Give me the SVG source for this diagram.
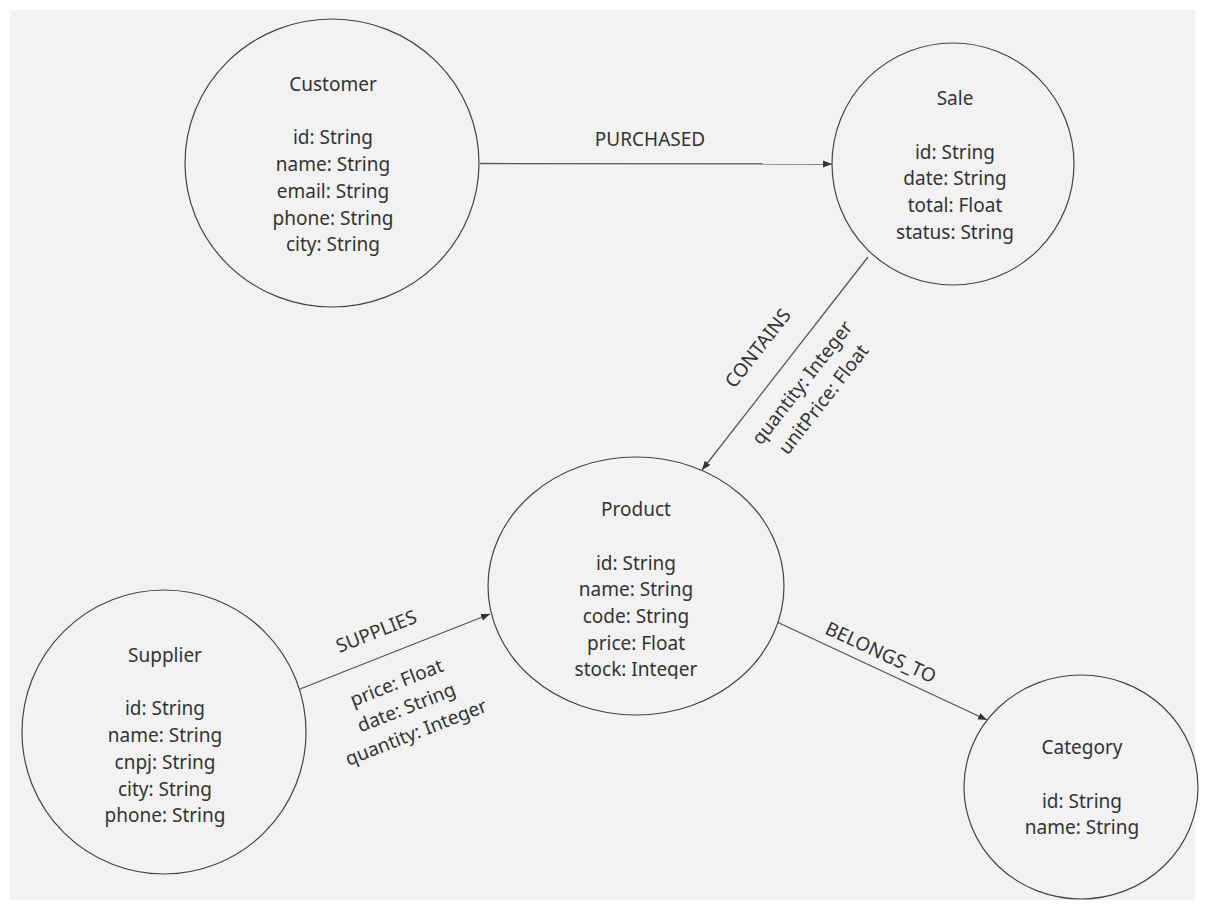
<svg xmlns="http://www.w3.org/2000/svg" width="1205" height="906" viewBox="0 0 1205 906">
<defs>
<style>
.bg{fill:#f2f2f2}
.node{fill:#f2f2f2;stroke:#444;stroke-width:1.2}
.edge{fill:none;stroke:#555;stroke-width:1.3}
text{font-family:"Noto Sans","Open Sans","DejaVu Sans",sans-serif;font-size:19px;fill:#333;text-anchor:middle}
</style>
<marker id="arr" markerUnits="userSpaceOnUse" markerWidth="10" markerHeight="8" refX="9" refY="3.5" orient="auto">
<path d="M0,0 L9,3.5 L0,7 z" fill="#333"/>
</marker>
<clipPath id="pclip"><rect x="480" y="450" width="320" height="229"/></clipPath>
</defs>
<rect width="1205" height="906" fill="#ffffff"/>
<rect class="bg" x="10" y="10" width="1185" height="890"/>

<g id="connectors">
<g id="e-purchased">
<line class="edge" x1="480" y1="163.5" x2="832" y2="164" marker-end="url(#arr)"/>
<text x="650" y="146">PURCHASED</text>
</g>
<g id="e-contains">
<line class="edge" x1="868" y1="257" x2="702" y2="470" marker-end="url(#arr)"/>
<g transform="translate(782,367) rotate(-52.1)">
<text x="0" y="-24">CONTAINS</text>
<text x="0" y="32">quantity: Integer</text>
<text x="0" y="59">unitPrice: Float</text>
</g>
</g>
<g id="e-supplies">
<line class="edge" x1="300" y1="689" x2="490" y2="614" marker-end="url(#arr)"/>
<g transform="translate(385.7,655.2) rotate(-21.5)">
<text x="0" y="-19">SUPPLIES</text>
<text x="0" y="36">price: Float</text>
<text x="0" y="62.7">date: String</text>
<text x="0" y="89.4">quantity: Integer</text>
</g>
</g>
<g id="e-belongs">
<line class="edge" x1="777" y1="622" x2="987" y2="720" marker-end="url(#arr)"/>
<g transform="translate(874,667) rotate(25)">
<text x="0" y="-9.5">BELONGS_TO</text>
</g>
</g>
</g>

<g id="node-customer">
<ellipse class="node" cx="332" cy="163" rx="147" ry="144"/>
<text x="333" y="91">Customer</text>
<text x="333" y="144.4">id: String</text>
<text x="333" y="171.1">name: String</text>
<text x="333" y="197.8">email: String</text>
<text x="333" y="224.5">phone: String</text>
<text x="333" y="251.2">city: String</text>
</g>

<g id="node-sale">
<circle class="node" cx="953" cy="164" r="121"/>
<text x="955" y="105">Sale</text>
<text x="955" y="158.5">id: String</text>
<text x="955" y="185.2">date: String</text>
<text x="955" y="211.9">total: Float</text>
<text x="955" y="238.6">status: String</text>
</g>

<g id="node-product">
<ellipse class="node" cx="636" cy="586" rx="148" ry="129"/>
<g clip-path="url(#pclip)">
<text x="636" y="516">Product</text>
<text x="636" y="569.5">id: String</text>
<text x="636" y="596.2">name: String</text>
<text x="636" y="622.9">code: String</text>
<text x="636" y="649.6">price: Float</text>
<text x="636" y="676.3">stock: Integer</text>
</g>
</g>

<g id="node-supplier">
<ellipse class="node" cx="164" cy="732" rx="142" ry="142"/>
<text x="165" y="662">Supplier</text>
<text x="165" y="715.4">id: String</text>
<text x="165" y="742.1">name: String</text>
<text x="165" y="768.8">cnpj: String</text>
<text x="165" y="795.5">city: String</text>
<text x="165" y="822.2">phone: String</text>
</g>

<g id="node-category">
<ellipse class="node" cx="1081" cy="787" rx="117" ry="112"/>
<text x="1082" y="754">Category</text>
<text x="1082" y="807.5">id: String</text>
<text x="1082" y="834.2">name: String</text>
</g>
</svg>
